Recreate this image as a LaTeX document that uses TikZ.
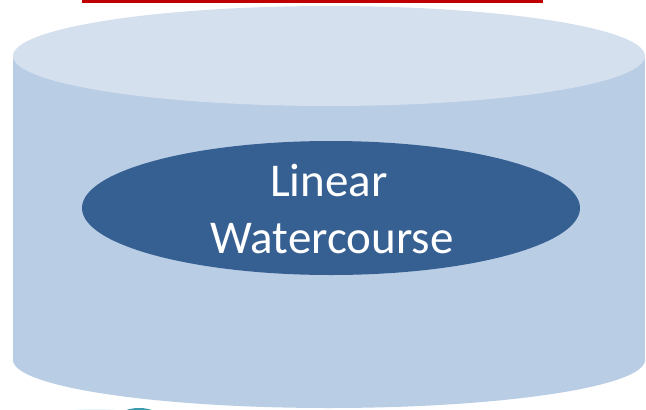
\documentclass[tikz,border=0pt]{standalone}
\usepackage{fontspec}
\setmainfont{Carlito}
\usetikzlibrary{shapes.geometric}
\definecolor{cyltop}{HTML}{D5E0EE}
\definecolor{cylbody}{HTML}{B9CDE5}
\definecolor{innerblue}{HTML}{376092}
\definecolor{redline}{HTML}{C00000}
\definecolor{tealpart}{HTML}{3A9AAE}
\definecolor{tealpale}{HTML}{E4F6F8}
\begin{document}
\begin{tikzpicture}[x=1pt,y=-1pt,
  innerell/.style={ellipse, fill=innerblue, draw=none, minimum width=498pt, minimum height=134pt, inner sep=0pt},
  lbl/.style={anchor=base, inner sep=0pt, text=white, font=\fontsize{47}{57}\selectfont}]
\useasboundingbox (0,0) rectangle (646,410);
\begin{scope}
\clip (0,0) rectangle (646,410);
% teal fragment at bottom
\fill[tealpale] (95,414) ellipse (35 and 5);
\fill[tealpart] (139,420) ellipse (23 and 12);
% cylinder body
\fill[cylbody] (13,56) rectangle (645,360);
\fill[cylbody] (329,360) ellipse (316 and 48);
% top face
\fill[cyltop] (329,56) ellipse (316 and 50);
% red line
\fill[redline] (82,0) rectangle (543,2.5);
\end{scope}
\node[innerell] (lw) at (331,208) {};
\node[lbl] (t1) at (329,196) {Linear};
\node[lbl] (t2) at (332,253) {Watercourse};
\end{tikzpicture}
\end{document}
